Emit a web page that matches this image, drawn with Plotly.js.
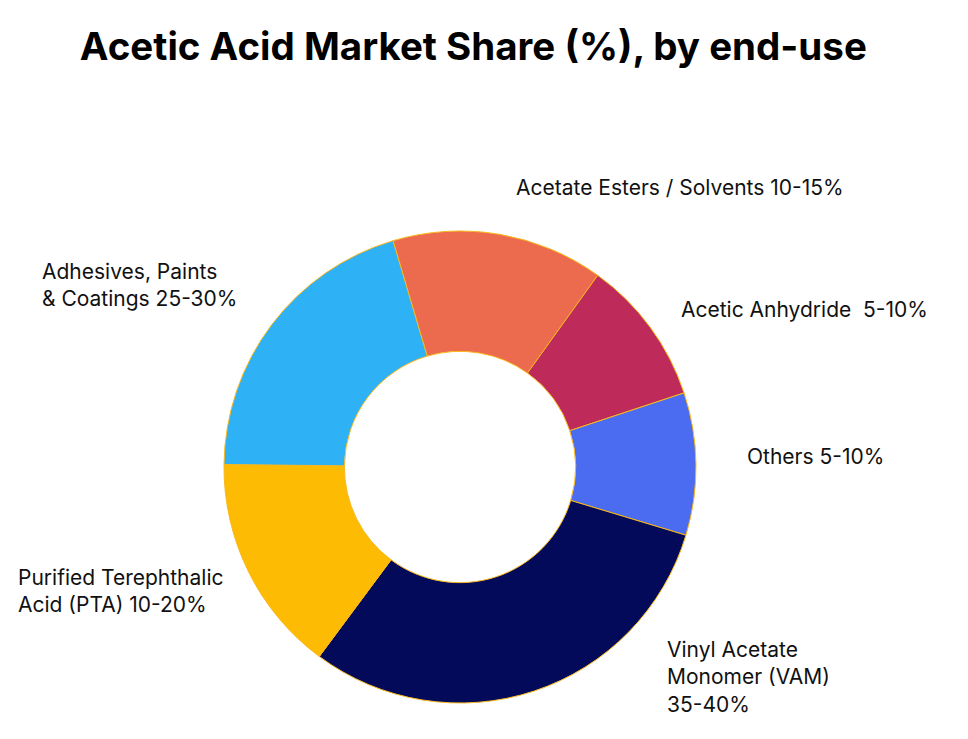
<!DOCTYPE html>
<html>
<head>
<meta charset="utf-8">
<script src="https://cdn.plot.ly/plotly-3.0.1.min.js"></script>
<style>html,body{margin:0;padding:0;background:#fff;}#chart{width:968px;height:739px;}</style>
</head>
<body>
<div id="chart"></div>
<script>
const categories = ["Acetate Esters / Solvents", "Acetic Anhydride", "Others", "Vinyl Acetate Monomer (VAM)", "Purified Terephthalic Acid (PTA)", "Adhesives, Paints & Coatings"];
const values = [14.5, 10, 9.75, 30.5, 15, 20.25];
const labelTexts = [
  "Acetate Esters / Solvents 10-15%",
  "Acetic Anhydride  5-10%",
  "Others 5-10%",
  "Vinyl Acetate<br>Monomer (VAM)<br>35-40%",
  "Purified Terephthalic<br>Acid (PTA) 10-20%",
  "Adhesives, Paints<br>& Coatings 25-30%"
];
const colors = ["#EC6B4E", "#BE2A5A", "#4B6CF0", "#030A5A", "#FDBB04", "#2EB1F5"];

const W = 968, H = 739;
// label anchor positions in pixels (left edge, vertical middle)
const labelPos = [[514, 187], [679, 310], [745, 456], [665, 677], [16, 591], [40, 285]];

const annotations = labelTexts.map((t, i) => ({
  text: t, xref: 'paper', yref: 'paper',
  x: labelPos[i][0] / W, y: 1 - labelPos[i][1] / H,
  xanchor: 'left', yanchor: 'middle', align: 'left', showarrow: false,
  font: {family: 'Inter, sans-serif', size: 21, color: '#111111'}
}));

const cx = 460, cy = 467, r = 236;
const trace = {
  type: 'pie', labels: categories, values: values, sort: false,
  direction: 'clockwise', rotation: -16.5, hole: 0.49,
  textinfo: 'none', hoverinfo: 'label+value',
  marker: {colors: colors, line: {color: '#F9B81B', width: 1}},
  domain: {x: [(cx - r) / W, (cx + r) / W], y: [1 - (cy + r) / H, 1 - (cy - r) / H]},
  showlegend: false
};

const layout = {
  width: W, height: H,
  margin: {l: 0, r: 0, t: 0, b: 0},
  paper_bgcolor: '#ffffff', plot_bgcolor: '#ffffff',
  title: {text: '<b>Acetic Acid Market Share (%), by end-use</b>', x: 0.489, xanchor: 'center', y: 1 - 47 / H, yanchor: 'middle',
          font: {family: 'Inter, sans-serif', size: 38.5, color: '#000000'}},
  annotations: annotations,
  showlegend: false
};
Plotly.newPlot('chart', [trace], layout, {displayModeBar: false});
</script>
</body>
</html>
